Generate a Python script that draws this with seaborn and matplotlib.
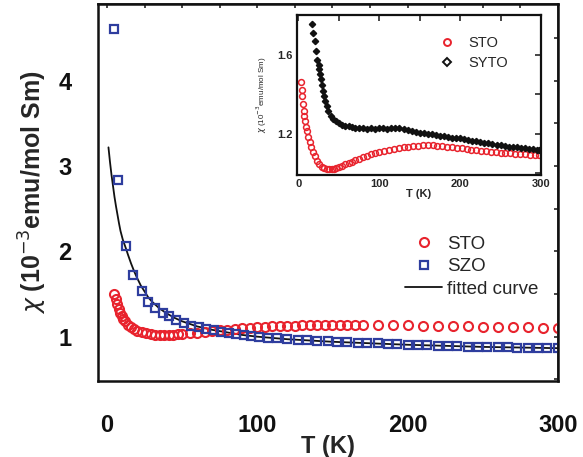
import numpy as np
import pandas as pd
import matplotlib
matplotlib.use("Agg")
import matplotlib.pyplot as plt
from matplotlib.ticker import MultipleLocator, FixedLocator, NullFormatter
from matplotlib.lines import Line2D
import seaborn as sns

sns.set_theme(style="white")
plt.rcParams["font.family"] = ["Liberation Sans", "DejaVu Sans"]
plt.rcParams["mathtext.fontset"] = "dejavusans"

RED = "#e8232d"
BLUE = "#2e3d9e"
BLACK = "#111111"

# ---- main panel: STO and SZO susceptibility ----
sto_T = [5, 6, 7, 8, 9, 10, 11, 12, 14, 16, 18, 20, 23, 26, 29, 32, 35, 38, 41, 44,
         47, 50, 55, 60, 65, 70, 75, 80, 85, 90, 95, 100, 105, 110, 115, 120, 125,
         130, 135, 140, 145, 150, 155, 160, 165, 170, 180, 190, 200, 210, 220, 230,
         240, 250, 260, 270, 280, 290, 300]
sto_chi = [1.50, 1.44, 1.38, 1.33, 1.28, 1.24, 1.21, 1.18, 1.14, 1.11, 1.09, 1.07,
           1.05, 1.04, 1.03, 1.025, 1.02, 1.02, 1.02, 1.022, 1.027, 1.032, 1.04,
           1.048, 1.056, 1.065, 1.075, 1.082, 1.09, 1.097, 1.103, 1.11, 1.115, 1.12,
           1.125, 1.128, 1.13, 1.133, 1.135, 1.137, 1.138, 1.14, 1.14, 1.14, 1.14,
           1.14, 1.138, 1.135, 1.132, 1.128, 1.125, 1.122, 1.12, 1.117, 1.114,
           1.111, 1.108, 1.105, 1.10]

szo_T = [5, 7.5, 12.5, 17.5, 23, 27.5, 32, 37, 41, 46, 51, 56, 61, 66, 71, 76, 81,
         86, 91, 96, 101, 107, 113, 120, 127, 133, 140, 147, 153, 160, 167, 173, 180,
         187, 193, 200, 207, 213, 220, 227, 233, 240, 247, 253, 260, 267, 273, 280,
         287, 293, 300]
szo_chi = [4.61, 2.84, 2.06, 1.72, 1.53, 1.41, 1.34, 1.28, 1.24, 1.20, 1.16, 1.13,
           1.11, 1.09, 1.075, 1.06, 1.045, 1.035, 1.02, 1.01, 0.995, 0.99, 0.985,
           0.975, 0.965, 0.958, 0.952, 0.946, 0.94, 0.935, 0.93, 0.925, 0.92, 0.915,
           0.91, 0.905, 0.90, 0.897, 0.893, 0.89, 0.887, 0.884, 0.881, 0.878, 0.876,
           0.873, 0.871, 0.869, 0.867, 0.865, 0.863]

fit_T = [1, 2, 3, 4, 5, 6, 7, 8, 9, 10.5, 12.5, 14, 16, 18, 20, 22.5, 25, 27.5, 30,
         35, 40, 45, 50, 60, 70, 80, 90, 100, 120, 150, 200, 250, 300]
fit_chi = [3.22, 3.05, 2.9, 2.77, 2.64, 2.53, 2.43, 2.33, 2.24, 2.14, 2.04, 1.96,
           1.86, 1.77, 1.69, 1.60, 1.53, 1.46, 1.41, 1.33, 1.27, 1.22, 1.18, 1.12,
           1.08, 1.05, 1.02, 1.0, 0.97, 0.94, 0.905, 0.88, 0.865]

# ---- inset: STO and SYTO ----
ins_sto_T = [3.7, 4.5, 5, 6, 6.5, 7.5, 8.5, 10, 11, 12.5, 14, 16, 18, 20, 23, 26, 29,
             32, 35, 38, 41, 44, 47, 50, 54, 58, 62, 66, 70, 75, 80, 85, 90, 95, 100,
             106, 112, 118, 124, 130, 136, 142, 148, 154, 160, 166, 172, 178, 184,
             190, 196, 202, 208, 214, 220, 226, 232, 238, 244, 250, 256, 262, 268,
             274, 280, 286, 292, 298]
ins_sto_chi = [1.46, 1.42, 1.39, 1.35, 1.315, 1.29, 1.265, 1.235, 1.215, 1.185,
               1.155, 1.13, 1.105, 1.085, 1.062, 1.045, 1.033, 1.026, 1.022, 1.02,
               1.021, 1.023, 1.027, 1.031, 1.037, 1.044, 1.051, 1.058, 1.065, 1.072,
               1.08, 1.088, 1.095, 1.101, 1.106, 1.112, 1.118, 1.123, 1.127, 1.131,
               1.134, 1.137, 1.139, 1.14, 1.14, 1.14, 1.138, 1.136, 1.134, 1.131,
               1.128, 1.125, 1.122, 1.119, 1.116, 1.113, 1.11, 1.108, 1.106, 1.104,
               1.102, 1.10, 1.098, 1.096, 1.094, 1.092, 1.09, 1.089]

syto_T = [17, 18, 20, 22, 23.5, 25, 26, 27, 28, 29.5, 30.5, 32, 33, 35, 37, 40, 43,
          46, 50, 54, 58, 62, 66, 70, 75, 80, 85, 90, 95, 100, 105, 110, 115, 120,
          125, 130, 135, 140, 145, 150, 155, 160, 165, 170, 175, 180, 185, 190, 195,
          200, 205, 210, 215, 220, 225, 230, 235, 240, 245, 250, 255, 260, 265, 270,
          275, 280, 285, 290, 295, 298]
syto_chi = [1.755, 1.71, 1.67, 1.62, 1.575, 1.545, 1.525, 1.50, 1.475, 1.445, 1.415,
            1.39, 1.365, 1.34, 1.315, 1.29, 1.275, 1.262, 1.252, 1.245, 1.24, 1.236,
            1.233, 1.23, 1.228, 1.226, 1.225, 1.227, 1.224, 1.228, 1.226, 1.225,
            1.229, 1.227, 1.228, 1.224, 1.22, 1.214, 1.21, 1.205, 1.203, 1.198,
            1.196, 1.192, 1.19, 1.186, 1.183, 1.18, 1.177, 1.175, 1.17, 1.167, 1.163,
            1.16, 1.157, 1.153, 1.15, 1.148, 1.143, 1.14, 1.138, 1.134, 1.132, 1.13,
            1.127, 1.126, 1.123, 1.12, 1.118, 1.115]

fig = plt.figure(figsize=(5.83, 4.57), dpi=100)
ax = fig.add_axes([0.168, 0.1663, 0.957 - 0.168, 0.991 - 0.1663])

sns.lineplot(x=fit_T, y=fit_chi, ax=ax, color=BLACK, lw=1.3, estimator=None,
             sort=False)
sns.lineplot(x=sto_T, y=sto_chi, ax=ax, estimator=None, linestyle="none",
             marker="o", markersize=6.5, markerfacecolor="none",
             markeredgecolor=RED, markeredgewidth=1.5)
sns.lineplot(x=szo_T, y=szo_chi, ax=ax, estimator=None, linestyle="none",
             marker="s", markersize=5.5, markerfacecolor="none",
             markeredgecolor=BLUE, markeredgewidth=1.6)

ax.set_xlim(-6, 300)
ax.set_ylim(0.48, 4.9)
ax.xaxis.set_major_locator(FixedLocator([0, 100, 200, 300]))
ax.xaxis.set_minor_locator(MultipleLocator(25))
ax.yaxis.set_major_locator(FixedLocator([1, 2, 3, 4]))
ax.yaxis.set_minor_locator(MultipleLocator(0.5))
ax.tick_params(axis="both", which="major", direction="in", length=16, width=1.5,
               labelsize=17, colors=BLACK)
ax.tick_params(axis="x", which="major", pad=24)
ax.tick_params(axis="y", which="major", pad=19)
ax.tick_params(axis="both", which="minor", direction="in", length=9, width=1.5)
for lab in ax.get_xticklabels() + ax.get_yticklabels():
    lab.set_fontweight("bold")
for sp in ax.spines.values():
    sp.set_linewidth(1.8)
    sp.set_color(BLACK)

# secondary ticks on top and right
top = ax.secondary_xaxis("top")
top.xaxis.set_major_locator(MultipleLocator(25))
top.tick_params(direction="in", length=3, width=1.2)
top.xaxis.set_major_formatter(NullFormatter())
right = ax.secondary_yaxis("right")
right.yaxis.set_major_locator(MultipleLocator(0.5))
right.tick_params(direction="in", length=3, width=1.2)
right.yaxis.set_major_formatter(NullFormatter())

ax.set_xlabel("T (K)", fontsize=17, fontweight="bold", labelpad=-2)
ax.set_ylabel(r"$\chi$ (10$^{-3}$emu/mol Sm)", fontsize=18, fontweight="bold",
              labelpad=7)

handles = [
    Line2D([], [], linestyle="none", marker="o", markersize=6.5,
           markerfacecolor="none", markeredgecolor=RED, markeredgewidth=1.5),
    Line2D([], [], linestyle="none", marker="s", markersize=5.5,
           markerfacecolor="none", markeredgecolor=BLUE, markeredgewidth=1.6),
    Line2D([], [], color=BLACK, lw=1.3),
]
ax.legend(handles, ["STO", "SZO", "fitted curve"], frameon=False, fontsize=13.5,
          loc="upper left", bbox_to_anchor=(0.667, 0.385), handlelength=2.0,
          handletextpad=0.25, labelspacing=0.28, borderaxespad=0, borderpad=0)

# ---- inset ----
ins = fig.add_axes([0.509, 0.617, 0.928 - 0.509, 0.967 - 0.617])
sns.lineplot(x=ins_sto_T, y=ins_sto_chi, ax=ins, estimator=None, linestyle="none",
             marker="o", markersize=4.2, markerfacecolor="none",
             markeredgecolor=RED, markeredgewidth=1.1)
sns.lineplot(x=syto_T, y=syto_chi, ax=ins, estimator=None, linestyle="none",
             marker="D", markersize=3.2, markerfacecolor=BLACK,
             markeredgecolor=BLACK, markeredgewidth=1.0)
ins.set_xlim(-2, 300)
ins.set_ylim(0.99, 1.8)
ins.xaxis.set_major_locator(FixedLocator([0, 100, 200, 300]))
ins.xaxis.set_minor_locator(MultipleLocator(50))
ins.yaxis.set_major_locator(FixedLocator([1.2, 1.6]))
ins.yaxis.set_minor_locator(MultipleLocator(0.2))
ins.tick_params(axis="both", which="both", direction="in", length=4, width=1.2,
                top=True, right=True, labelsize=8, pad=3)
for lab in ins.get_xticklabels() + ins.get_yticklabels():
    lab.set_fontweight("bold")
for sp in ins.spines.values():
    sp.set_linewidth(1.6)
    sp.set_color(BLACK)
ins.set_xlabel("T (K)", fontsize=8, fontweight="bold", labelpad=0)
ins.set_ylabel(r"$\chi$ (10$^{-3}$emu/mol Sm)", fontsize=5.8, labelpad=6)

ins_handles = [
    Line2D([], [], linestyle="none", marker="o", markersize=5,
           markerfacecolor="none", markeredgecolor=RED, markeredgewidth=1.4),
    Line2D([], [], linestyle="none", marker="D", markersize=4.5,
           markerfacecolor="none", markeredgecolor=BLACK, markeredgewidth=1.4),
]
ins.legend(ins_handles, ["STO", "SYTO"], frameon=False, fontsize=10.5,
           loc="upper left", bbox_to_anchor=(0.585, 0.87), handlelength=1.0,
           handletextpad=1.0, labelspacing=0.4, borderaxespad=0, borderpad=0)

fig.savefig("out.png", dpi=100)
